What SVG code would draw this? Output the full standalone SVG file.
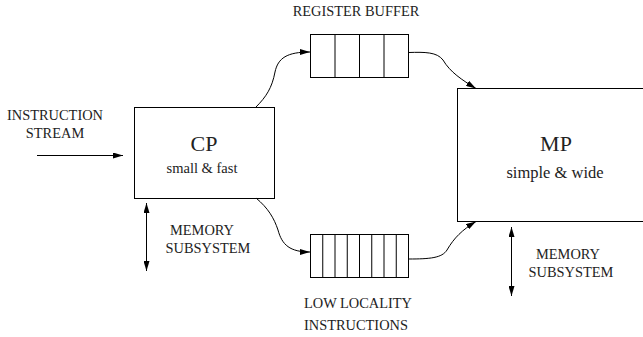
<svg xmlns="http://www.w3.org/2000/svg" width="643" height="337" viewBox="0 0 643 337">
<style>
.box{fill:#fff;stroke:#000;stroke-width:1}
.cell{fill:none;stroke:#000;stroke-width:1}
.wire{fill:none;stroke:#000;stroke-width:1}
.arr{marker-end:url(#ah)}
.dbl{marker-start:url(#ah);marker-end:url(#ah)}
.lbl{font-size:14.4px}
.big{font-size:22px}
.sub{font-size:14.5px}
.subw{font-size:16.5px}
</style>
<defs>
<marker id="ah" markerUnits="userSpaceOnUse" markerWidth="11" markerHeight="6" refX="10" refY="3" orient="auto-start-reverse" viewBox="0 0 11 6">
<path d="M0,0 L10,3 L0,6 z" fill="#000"/>
</marker>
</defs>
<rect width="643" height="337" fill="#fff"/>
<g font-family="Times New Roman, Liberation Serif, serif" fill="#222" text-anchor="middle">
<g id="instruction-stream">
<text class="lbl" x="55" y="119.5">INSTRUCTION</text>
<text class="lbl" x="55" y="137.5">STREAM</text>
</g>
<g id="cp">
<rect class="box" x="134.5" y="107.5" width="140" height="91"/>
<text class="big" x="204" y="151">CP</text>
<text class="sub" x="202" y="173">small &amp; fast</text>
</g>
<g id="register-buffer">
<rect class="cell" x="310.5" y="34.5" width="98" height="43"/>
<line class="cell" x1="335" y1="34.5" x2="335" y2="77.5"/>
<line class="cell" x1="359.5" y1="34.5" x2="359.5" y2="77.5"/>
<line class="cell" x1="384" y1="34.5" x2="384" y2="77.5"/>
<text class="lbl" x="356" y="16">REGISTER BUFFER</text>
</g>
<g id="low-locality-buffer">
<rect class="cell" x="310.5" y="234.5" width="98" height="43"/>
<line class="cell" x1="322.75" y1="234.5" x2="322.75" y2="277.5"/>
<line class="cell" x1="335" y1="234.5" x2="335" y2="277.5"/>
<line class="cell" x1="347.25" y1="234.5" x2="347.25" y2="277.5"/>
<line class="cell" x1="359.5" y1="234.5" x2="359.5" y2="277.5"/>
<line class="cell" x1="371.75" y1="234.5" x2="371.75" y2="277.5"/>
<line class="cell" x1="384" y1="234.5" x2="384" y2="277.5"/>
<line class="cell" x1="396.25" y1="234.5" x2="396.25" y2="277.5"/>
<text class="lbl" x="358" y="308">LOW LOCALITY</text>
<text class="lbl" x="356" y="330">INSTRUCTIONS</text>
</g>
<g id="mp">
<rect class="box" x="457.5" y="88.5" width="190" height="133"/>
<text class="big" x="556" y="151">MP</text>
<text class="subw" x="555" y="178">simple &amp; wide</text>
</g>
<g id="memory-cp">
<text class="lbl" x="202" y="234.5">MEMORY</text>
<text class="lbl" x="208" y="252.5">SUBSYSTEM</text>
</g>
<g id="memory-mp">
<text class="lbl" x="568" y="258.5">MEMORY</text>
<text class="lbl" x="571" y="276.5">SUBSYSTEM</text>
</g>
</g>
<g id="connectors">
<line class="wire arr" x1="37" y1="155.5" x2="123" y2="155.5"/>
<path class="wire arr" d="M256,107 C266,97 272,88 275,72 C278,58 287,52 310,52"/>
<path class="wire arr" d="M408.5,52.5 C425,52 437,52 443,60 C450,72 462,80 476,88.5"/>
<path class="wire arr" d="M256,198 C268,208 274,218 278,230 C282,245 290,252 310,252"/>
<path class="wire arr" d="M408.5,259 C430,259 442,258 447,250 C454,238 462,230 476,221.5"/>
<line class="wire dbl" x1="146.5" y1="203" x2="146.5" y2="271"/>
<line class="wire dbl" x1="511.5" y1="227" x2="511.5" y2="296"/>
</g>
</svg>
